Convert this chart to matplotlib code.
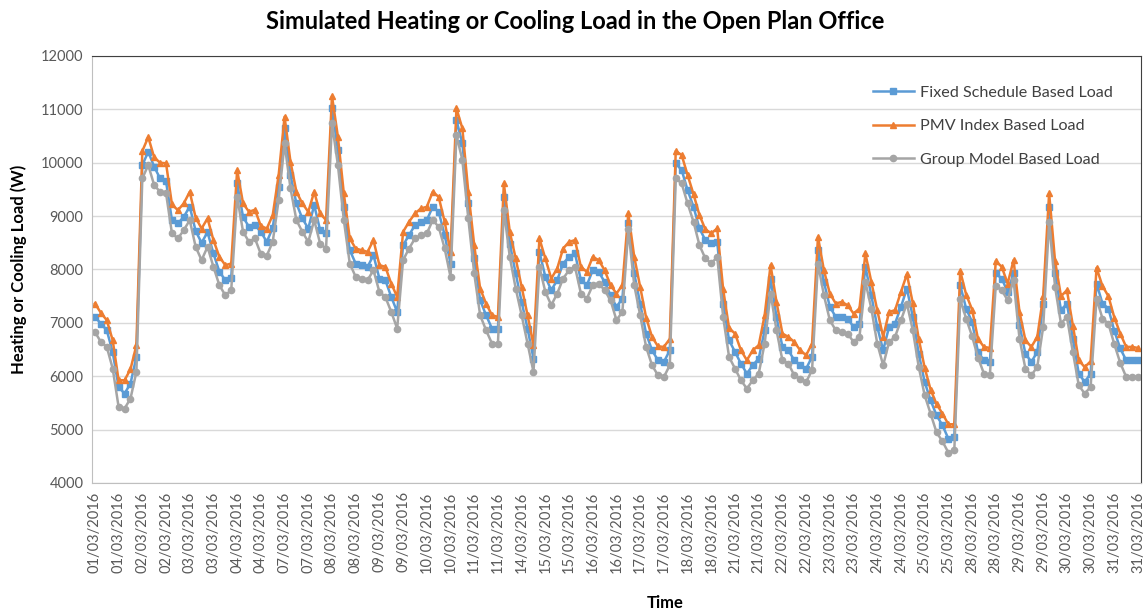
import numpy as np
import matplotlib.pyplot as plt

# x tick labels (every 4th time step)
tick_dates = ["01/03/2016", "01/03/2016", "02/03/2016", "02/03/2016", "03/03/2016", "03/03/2016",
              "04/03/2016", "04/03/2016", "07/03/2016", "07/03/2016", "08/03/2016", "08/03/2016",
              "09/03/2016", "09/03/2016", "10/03/2016", "10/03/2016", "11/03/2016", "11/03/2016",
              "14/03/2016", "15/03/2016", "15/03/2016", "16/03/2016", "16/03/2016", "17/03/2016",
              "17/03/2016", "18/03/2016", "18/03/2016", "21/03/2016", "21/03/2016", "22/03/2016",
              "22/03/2016", "23/03/2016", "23/03/2016", "24/03/2016", "24/03/2016", "25/03/2016",
              "25/03/2016", "28/03/2016", "28/03/2016", "29/03/2016", "29/03/2016", "30/03/2016",
              "30/03/2016", "31/03/2016", "31/03/2016"]
tick_step = 4

fixed_load = [7113, 6988, 6863, 6450, 5800, 5675, 5862, 6362,
              9956, 10206, 9925, 9706, 9650, 8925, 8862, 8988,
              9180, 8720, 8500, 8700, 8300, 7960, 7800, 7850,
              9620, 8980, 8800, 8830, 8706, 8518, 8780, 9550,
              10643, 9768, 9237, 8956, 8768, 9206, 8737, 8675,
              11018, 10237, 9175, 8362, 8112, 8081, 8050, 8268,
              7831, 7800, 7487, 7206, 8456, 8643, 8831, 8893,
              8925, 9175, 9081, 8650, 8112, 10800, 10362, 9237,
              8206, 7425, 7143, 6893, 6893, 9362, 8487, 7925,
              7393, 6893, 6331, 8331, 7862, 7612, 7800, 8112,
              8237, 8300, 7800, 7706, 7987, 7956, 7768, 7518,
              7300, 7456, 8870, 7925, 7362, 6800, 6487, 6300,
              6268, 6487, 9987, 9862, 9487, 9175, 8769, 8550,
              8488, 8519, 7362, 6675, 6456, 6237, 6050, 6206,
              6331, 6862, 7831, 7112, 6550, 6487, 6300, 6206,
              6143, 6362, 8362, 7768, 7300, 7112, 7112, 7081,
              6925, 6987, 8050, 7518, 6925, 6487, 6925, 6987,
              7300, 7643, 7112, 6425, 5893, 5550, 5268, 5081,
              4831, 4862, 7706, 7268, 7018, 6450, 6300, 6268,
              7925, 7831, 7581, 7925, 6956, 6425, 6268, 6456,
              7362, 9175, 7925, 7237, 7362, 6706, 6050, 5893,
              6050, 7737, 7362, 7268, 6850, 6520, 6300, 6300, 6300]

pmv_load = [7362, 7190, 7050, 6675, 5925, 5925, 6130, 6580,
            10220, 10480, 10100, 10000, 9990, 9220, 9110, 9240,
            9456, 8970, 8768, 8956, 8550, 8237, 8081, 8112,
            9862, 9237, 9081, 9120, 8815, 8768, 9018, 9768,
            10862, 10018, 9456, 9237, 9081, 9456, 9050, 8925,
            11250, 10487, 9425, 8581, 8393, 8362, 8331, 8550,
            8081, 8050, 7737, 7487, 8706, 8893, 9050, 9143,
            9175, 9456, 9360, 8900, 8330, 11018, 10643, 9456,
            8456, 7643, 7362, 7143, 7112, 9612, 8706, 8206,
            7675, 7143, 6581, 8581, 8206, 7831, 8018, 8393,
            8518, 8550, 8050, 7956, 8237, 8175, 7987, 7706,
            7550, 7706, 9050, 8237, 7675, 7100, 6737, 6560,
            6550, 6700, 10220, 10144, 9769, 9410, 9020, 8750,
            8680, 8769, 7630, 6900, 6800, 6487, 6300, 6487,
            6581, 7143, 8081, 7393, 6800, 6737, 6643, 6487,
            6393, 6612, 8612, 7987, 7550, 7362, 7393, 7331,
            7175, 7268, 8300, 7768, 7237, 6737, 7206, 7237,
            7581, 7910, 7370, 6700, 6160, 5750, 5480, 5300,
            5100, 5100, 7970, 7530, 7250, 6700, 6550, 6530,
            8160, 8050, 7737, 8175, 7206, 6675, 6550, 6737,
            7500, 9430, 8160, 7500, 7612, 6950, 6300, 6170,
            6280, 8030, 7690, 7500, 7100, 6800, 6550, 6550, 6530]

group_load = [6831, 6644, 6550, 6144, 5425, 5394, 5581, 6081,
              9706, 9956, 9581, 9456, 9430, 8675, 8581, 8738,
              8925, 8425, 8175, 8425, 8050, 7706, 7518, 7612,
              9362, 8706, 8518, 8581, 8290, 8260, 8518, 9300,
              10362, 9518, 8925, 8706, 8518, 8925, 8487, 8393,
              10737, 9956, 8925, 8112, 7862, 7831, 7800, 7987,
              7581, 7487, 7206, 6894, 8175, 8393, 8581, 8643,
              8675, 8925, 8800, 8400, 7862, 10518, 10050, 8956,
              7925, 7143, 6862, 6612, 6612, 9112, 8237, 7643,
              7143, 6612, 6081, 8050, 7581, 7331, 7550, 7831,
              7987, 8050, 7550, 7456, 7706, 7737, 7612, 7425,
              7050, 7206, 8750, 7706, 7143, 6550, 6206, 6018,
              5987, 6206, 9706, 9612, 9238, 8894, 8456, 8206,
              8113, 8237, 7112, 6362, 6143, 5925, 5768, 5925,
              6050, 6612, 7550, 6862, 6300, 6237, 6018, 5956,
              5893, 6112, 8112, 7518, 7050, 6862, 6831, 6800,
              6643, 6737, 7768, 7268, 6612, 6206, 6643, 6737,
              7050, 7362, 6862, 6175, 5643, 5300, 4950, 4780,
              4570, 4612, 7440, 7080, 6750, 6350, 6050, 6019,
              7700, 7612, 7425, 7800, 6706, 6143, 6018, 6175,
              6925, 8893, 7675, 6987, 7112, 6456, 5831, 5675,
              5800, 7456, 7081, 6987, 6600, 6250, 5987, 5987, 5987]

plt.rcParams['font.family'] = ['Lato', 'DejaVu Sans']

x = np.arange(len(fixed_load))

fig = plt.figure(figsize=(11.45, 6.12), dpi=100)
ax = fig.add_axes([0.0803, 0.2108, 0.9162, 0.6977])

ax.plot(x, fixed_load, color='#5B9BD5', marker='s', markersize=4.5, linewidth=1.8,
        label='Fixed Schedule Based Load')
ax.plot(x, pmv_load, color='#ED7D31', marker='^', markersize=5, linewidth=1.8,
        label='PMV Index Based Load')
ax.plot(x, group_load, color='#A5A5A5', marker='o', markersize=4.5, linewidth=1.8,
        label='Group Model Based Load')

ax.set_xlim(-0.5, len(x) - 0.5)
ax.set_ylim(4000, 12000)
ax.set_yticks(range(4000, 12001, 1000))
ax.set_xticks(np.arange(0, len(tick_dates) * tick_step, tick_step))
ax.set_xticklabels(tick_dates, rotation=90)
ax.tick_params(axis='both', length=0, labelsize=10.5, colors='#595959', pad=6)
ax.grid(axis='y', color='#d9d9d9', linewidth=1)
ax.set_axisbelow(True)

for s in ['left', 'bottom']:
    ax.spines[s].set_color('#bfbfbf')
for s in ['top', 'right']:
    ax.spines[s].set_color('#404040')

ax.set_ylabel('Heating or Cooling Load (W)', fontsize=12, fontweight='bold', labelpad=10)
fig.text(0.581, 0.007, 'Time', fontsize=12, fontweight='bold', ha='center')
fig.text(0.502, 0.952, 'Simulated Heating or Cooling Load in the Open Plan Office',
         fontsize=17, fontweight='bold', ha='center')

ax.legend(loc='upper right', bbox_to_anchor=(0.987, 0.965), frameon=False, fontsize=11.6,
          labelspacing=1.2, handlelength=2.5, handletextpad=0.4, labelcolor='#404040')

fig.savefig('out.png', dpi=100)
